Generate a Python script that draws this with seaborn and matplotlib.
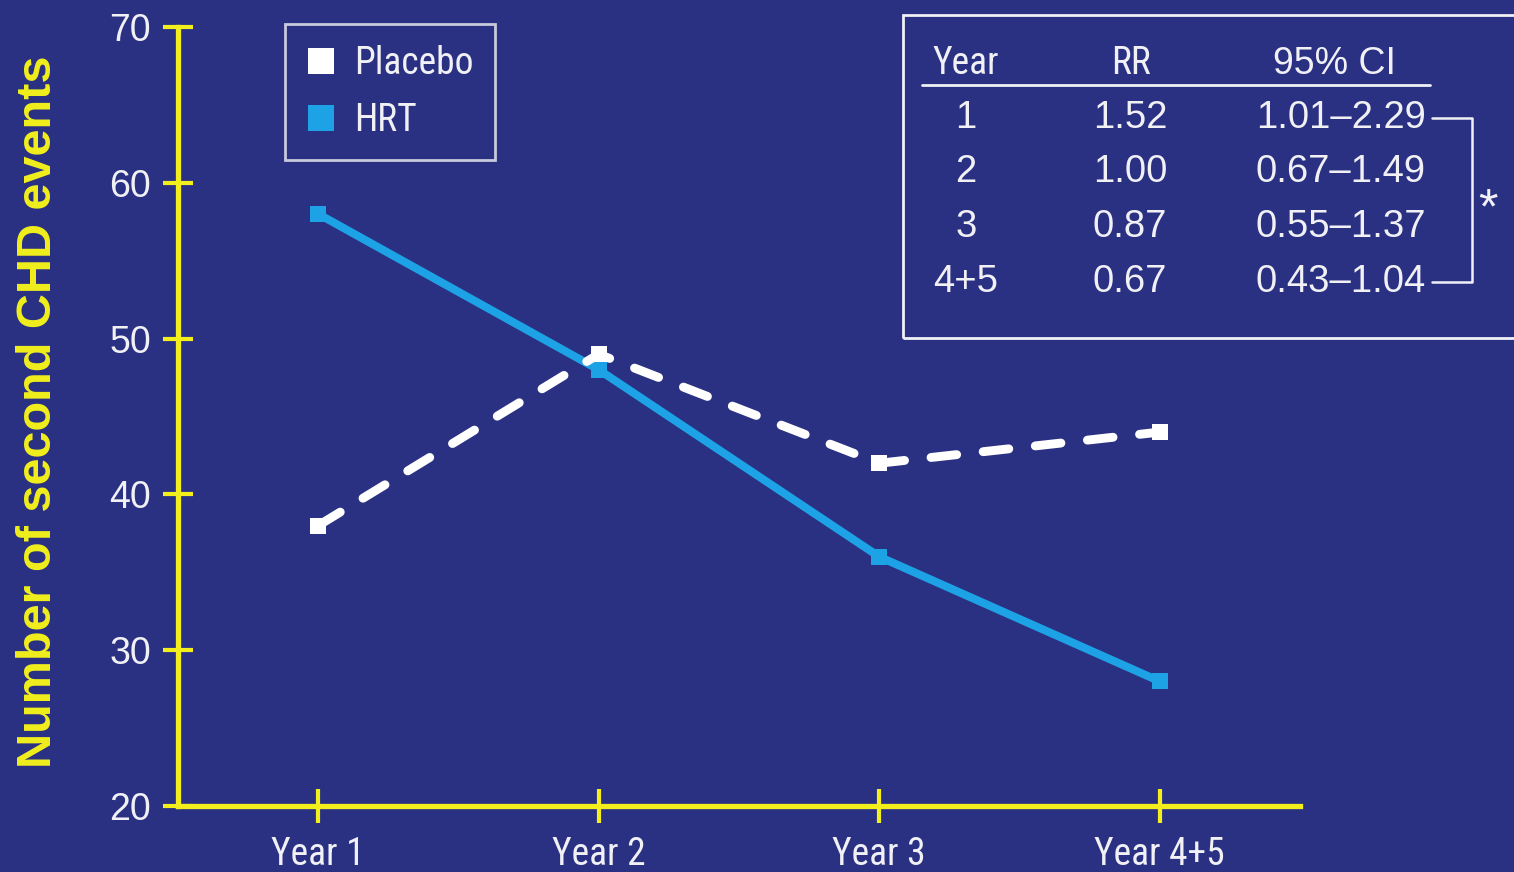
import matplotlib
matplotlib.use("Agg")
import matplotlib.pyplot as plt
from matplotlib import font_manager
from matplotlib.lines import Line2D
from matplotlib.patches import Rectangle
import seaborn as sns
import pandas as pd

# ---- data ----
years = ["Year 1", "Year 2", "Year 3", "Year 4+5"]
placebo = [38, 49, 42, 44]
hrt = [58, 48, 36, 28]
y_ticks = [20, 30, 40, 50, 60, 70]

table_header = ["Year", "RR", "95% CI"]
table_year = ["1", "2", "3", "4+5"]
table_rr = ["1.52", "1.00", "0.87", "0.67"]
table_ci = ["1.01–2.29", "0.67–1.49", "0.55–1.37", "0.43–1.04"]

# ---- style ----
BG = "#2a3183"
YEL = "#f2ef1c"
BLUE = "#1ea2e6"
WHITE = "#ffffff"
TXT = "#f0f0f5"

sns.set_theme(style="white")
names = {f.name for f in font_manager.fontManager.ttflist}
narrow = "Roboto Condensed" if "Roboto Condensed" in names else "Liberation Sans Narrow" if "Liberation Sans Narrow" in names else "DejaVu Sans"
plt.rcParams['font.family'] = [narrow, 'DejaVu Sans']
NUMF = ["Liberation Sans", "DejaVu Sans"]

fig = plt.figure(figsize=(15.14, 8.72), dpi=100, facecolor=BG)
ax = fig.add_axes([178/1514, 1-806/872, (1300-178)/1514, (806-27)/872])
ax.set_facecolor(BG)

df = pd.DataFrame({"x": list(range(len(years))) * 2,
                   "y": placebo + hrt,
                   "group": ["Placebo"] * len(years) + ["HRT"] * len(years)})

sns.lineplot(data=df[df.group == "HRT"], x="x", y="y", ax=ax, color=BLUE,
             lw=5.8, marker="s", markersize=11, markeredgewidth=0,
             solid_joinstyle="miter", legend=False)
sns.lineplot(data=df[df.group == "Placebo"], x="x", y="y", ax=ax, color=WHITE,
             lw=6.4, marker="s", markersize=11, markeredgewidth=0,
             legend=False)
ax.lines[-1].set_linestyle((0, (2.9, 3.0)))
ax.lines[-1].set_dash_capstyle("round")

ax.set_xlim(-0.5, 3.5)
ax.set_ylim(20, 70)
ax.set_xticks(range(len(years)))
ax.set_xticklabels(years)
ax.set_yticks(y_ticks)
ax.set_yticklabels([str(v) for v in y_ticks], family=NUMF)
ax.set_xlabel("")
ax.set_ylabel("Number of second CHD events", color=YEL, fontsize=35,
              fontweight="bold", family=["Liberation Sans", "DejaVu Sans"])
ax.yaxis.label.set_verticalalignment("center")
ax.yaxis.set_label_coords((39 - 178) / 1122, (806 - 412) / 779)

for s in ["top", "right"]:
    ax.spines[s].set_visible(False)
for s in ["left", "bottom"]:
    ax.spines[s].set_color(YEL)
    ax.spines[s].set_linewidth(3.8)
ax.tick_params(axis="both", direction="inout", width=3, color=YEL,
               labelcolor=TXT, labelsize=27, bottom=True, left=True)
ax.tick_params(axis="y", length=21, pad=9)
ax.tick_params(axis="x", length=25, pad=9)

# legend
handles = [Line2D([], [], ls="none", marker="s", color=WHITE, markersize=19, markeredgewidth=0),
           Line2D([], [], ls="none", marker="s", color=BLUE, markersize=19, markeredgewidth=0)]
leg = ax.legend(handles, ["Placebo", "HRT"], loc="upper left",
                bbox_to_anchor=((285 - 178) / 1122, 1 - (24 - 27) / 779), frameon=True,
                borderaxespad=0, fontsize=27, labelcolor=TXT, handlelength=0.8,
                handletextpad=0.5, borderpad=0.55, labelspacing=0.55, fancybox=False)
leg.get_frame().set_facecolor(BG)
leg.get_frame().set_edgecolor(TXT)
leg.get_frame().set_linewidth(2)

# table box
def fx(px):
    return px / 1514
def fy(py):
    return 1 - py / 872

fig.patches.append(Rectangle((fx(903), fy(338)), fx(1530) - fx(903), fy(15) - fy(338),
                             transform=fig.transFigure, facecolor="none",
                             edgecolor=TXT, linewidth=2))
fig.text(fx(966), fy(64), table_header[0], ha="center", va="center", fontsize=27, color=TXT)
fig.text(fx(1131), fy(64), table_header[1], ha="center", va="center", fontsize=27, color=TXT)
fig.text(fx(1334), fy(64), table_header[2], ha="center", va="center", fontsize=27,
         color=TXT, family=NUMF)
fig.add_artist(Line2D([fx(922), fx(1430)], [fy(85), fy(85)], transform=fig.transFigure,
                      color=TXT, lw=2))
row_y = [118, 172, 227, 282]
for ry, a, b, c in zip(row_y, table_year, table_rr, table_ci):
    fig.text(fx(966), fy(ry), a, ha="center", va="center", fontsize=27.5, color=TXT, family=NUMF)
    fig.text(fx(1130), fy(ry), b, ha="center", va="center", fontsize=27.5, color=TXT, family=NUMF)
    fig.text(fx(1426), fy(ry), c, ha="right", va="center", fontsize=27.5, color=TXT, family=NUMF)
fig.add_artist(Line2D([fx(1432), fx(1472), fx(1472), fx(1432)],
                      [fy(row_y[0]), fy(row_y[0]), fy(row_y[-1]), fy(row_y[-1])],
                      transform=fig.transFigure, color=TXT, lw=1.8))
fig.text(fx(1488), fy(210), "*", ha="center", va="center", fontsize=36, color=TXT, family=NUMF)

fig.savefig("out.png", dpi=100, facecolor=BG)
